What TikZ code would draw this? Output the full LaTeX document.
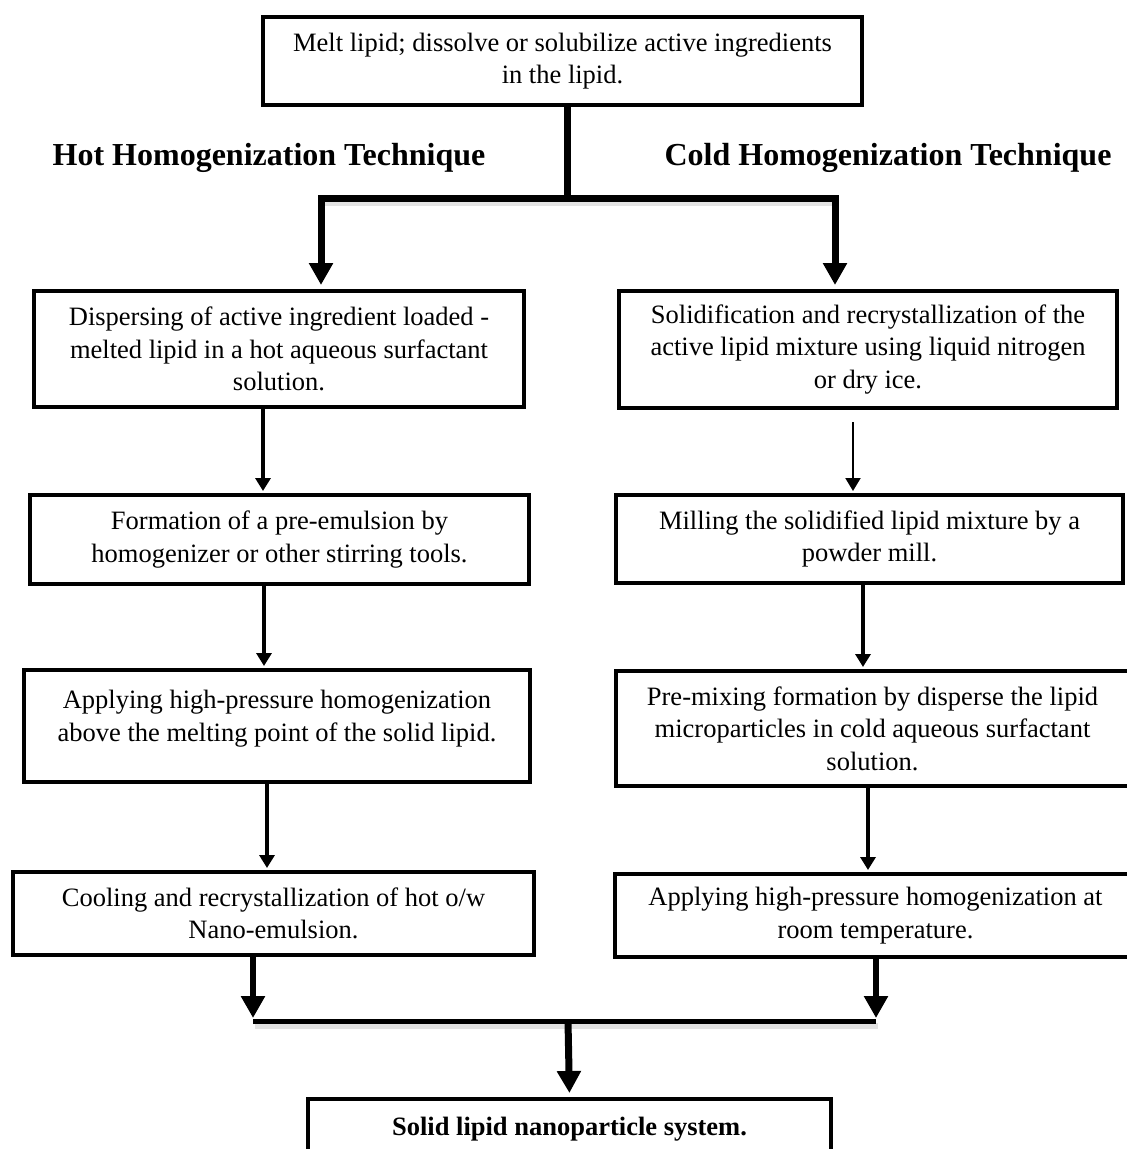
\documentclass[tikz,border=0pt]{standalone}
\usepackage{fontspec}
\setmainfont{Liberation Serif}
\usetikzlibrary{arrows.meta}
\tikzset{
  box/.style={draw, line width=4pt, fill=white, align=center, inner sep=0pt,
    font=\fontsize{26.5}{32.5}\selectfont},
  hdr/.style={font=\fontsize{32}{38}\selectfont\bfseries, anchor=base, inner sep=0pt},
  bigtip/.style={-{Triangle[width=23pt,length=22pt]}},
  thickline/.style={line width=7pt},
  thinarrow/.style={line width=3.5pt, -{Triangle[width=15pt,length=13pt]}},
  shadowline/.style={gray!22, line width=6pt}
}
\begin{document}
\begin{tikzpicture}[x=1pt,y=-1pt]
\useasboundingbox (0,0) rectangle (1127,1149);
\clip (0,0) rectangle (1127,1149);
\fill[white] (0,0) rectangle (1127,1149);

% boxes
\node[box, minimum width=599pt, minimum height=88pt] (top) at (562.5,61)
  {Melt lipid; dissolve or solubilize active ingredients\\in the lipid.};
\node[hdr] (hot) at (269,165) {Hot Homogenization Technique};
\node[hdr] (cold) at (888,165) {Cold Homogenization Technique};

\node[box, minimum width=490pt, minimum height=116pt] (L1) at (279,349)
  {Dispersing of active ingredient loaded -\\melted lipid in a hot aqueous surfactant\\solution.};
\node[box, minimum width=499pt, minimum height=89pt] (L2) at (279.5,539.5)
  {Formation of a pre-emulsion by\\homogenizer or other stirring tools.};
\node[box, minimum width=506pt, minimum height=112pt] (L3) at (277,726)
  {Applying high-pressure homogenization\\above the melting point of the solid lipid.\\[-12pt]\mbox{}};
\node[box, minimum width=521pt, minimum height=83pt] (L4) at (273.5,913.5)
  {Cooling and recrystallization of hot o/w\\Nano-emulsion.};

\node[box, minimum width=498pt, minimum height=117pt] (R1) at (868,349.5)
  {Solidification and recrystallization of the\\active lipid mixture using liquid nitrogen\\or dry ice.};
\node[box, minimum width=507pt, minimum height=88pt] (R2) at (869.5,539)
  {Milling the solidified lipid mixture by a\\powder mill.};
\node[box, minimum width=513pt, minimum height=115pt] (R3) at (872.5,728.5)
  {Pre-mixing formation by disperse the lipid\\microparticles in cold aqueous surfactant\\solution.};
\node[box, minimum width=521pt, minimum height=83pt] (R4) at (875.5,915.5)
  {Applying high-pressure homogenization at\\room temperature.};

\node[box, minimum width=523pt, minimum height=60pt,
  font=\fontsize{26.5}{32.5}\selectfont\bfseries] (bot) at (569.5,1129)
  {Solid lipid nanoparticle system.};

% upper split
\coordinate (jt) at (567,198);
\coordinate (jl) at (321,198);
\coordinate (jr) at (835,198);
\draw[shadowline] ([xshift=2pt,yshift=-5pt]jl) -- ([xshift=2pt,yshift=-5pt]jr);
\draw[thickline] (top.south -| jt) -- (jt);
\draw[thickline, {Triangle[width=23pt,length=22pt]}-{Triangle[width=23pt,length=22pt]},
  shorten <=4pt, shorten >=4pt]
  (L1.north -| jl) -- (jl) -- (jr) -- (R1.north -| jr);

% left column
\coordinate (a1) at (263,0);
\coordinate (a2) at (264,0);
\coordinate (a3) at (267,0);
\draw[thinarrow, shorten >=2pt] (L1.south -| a1) -- (L2.north -| a1);
\draw[thinarrow, shorten >=2pt] (L2.south -| a2) -- (L3.north -| a2);
\draw[thinarrow, shorten >=2pt] (L3.south -| a3) -- (L4.north -| a3);

% right column
\coordinate (b1) at (853,0);
\coordinate (b2) at (863,0);
\coordinate (b3) at (868,0);
\draw[thinarrow, line width=2pt, shorten <=12pt, shorten >=2pt] (R1.south -| b1) -- (R2.north -| b1);
\draw[thinarrow, line width=4.5pt, shorten >=2pt] (R2.south -| b2) -- (R3.north -| b2);
\draw[thinarrow, line width=4pt, shorten >=2pt] (R3.south -| b3) -- (R4.north -| b3);

% lower merge
\coordinate (bl) at (253,1021);
\coordinate (br) at (876,1021);
\coordinate (bm) at (568,1021);
\draw[shadowline] ([xshift=2pt,yshift=-5pt]bl) -- ([xshift=2pt,yshift=-5pt]br);
\draw[line width=6pt, bigtip, shorten >=3pt] (L4.south -| bl) -- (bl);
\draw[line width=6pt, bigtip, shorten >=3pt] (R4.south -| br) -- (br);
\draw[line width=5pt] (bl) -- (br);
\draw[thickline, bigtip, shorten >=4pt] (bm) -- (bot.north);
\end{tikzpicture}
\end{document}
